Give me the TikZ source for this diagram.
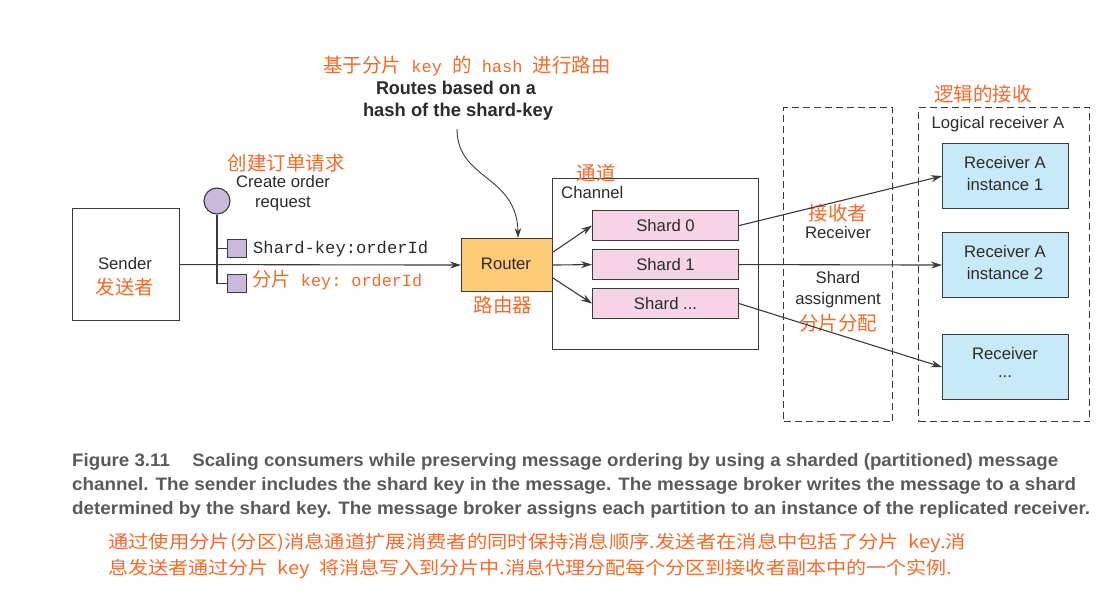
\documentclass[tikz,border=0pt]{standalone}
\usepackage{fontspec}
\setmainfont{Liberation Sans}
\setmonofont{Liberation Mono}
\newfontfamily\cjk{Noto Sans CJK SC}
\usepackage{graphicx}
\usetikzlibrary{arrows.meta}
\newsavebox\fitbox
\newcommand\fitw[2]{\sbox\fitbox{#2}\pgfmathsetmacro\fitr{#1/\the\wd\fitbox}\scalebox{\fitr}[1]{\usebox\fitbox}}
\definecolor{linec}{HTML}{3A3A3A}
\definecolor{txt}{HTML}{2B2B2B}
\definecolor{orng}{HTML}{F46A2A}
\definecolor{routerc}{HTML}{FCCB78}
\definecolor{shardc}{HTML}{F6D4E6}
\definecolor{recvc}{HTML}{C8E9F8}
\definecolor{lav}{HTML}{C9B9DA}
\definecolor{capc}{HTML}{5A5A5A}
\begin{document}
\begin{tikzpicture}[x=1pt,y=-1pt,
  box/.style={draw=linec, line width=1.1pt, inner sep=0, anchor=north west},
  dbox/.style={box, dash pattern=on 7pt off 4pt},
  arr/.style={draw=linec, line width=1.1pt, -{Stealth[length=11pt,width=7pt]}},
  ln/.style={draw=linec, line width=1.1pt},
  lbl/.style={inner sep=0, font=\fontsize{16.7}{18}\selectfont, text=txt},
  zh/.style={inner sep=0, font=\cjk\fontsize{19.5}{22}\selectfont, text=orng},
  capline/.style={inner sep=0, anchor=base west, font=\bfseries\fontsize{18}{20}\selectfont, text=capc},
  zhcap/.style={inner sep=0, anchor=base west, font=\cjk\fontsize{18}{20}\selectfont, text=orng},
]
\useasboundingbox (0,0) rectangle (1116,599);

% Sender
\node[box, minimum width=107pt, minimum height=112pt] (sender) at (72,208) {};
\node[lbl] (senderl) at (125,264) {Sender};
\node[zh] (senderz) at (125,287) {发送者};

% Message
\node[circle, draw=linec, line width=1.1pt, fill=lav, minimum size=26pt, inner sep=0] (msg) at (217,201) {};
\node[box, fill=lav, minimum width=19pt, minimum height=18pt] (sq1) at (227,239) {};
\node[box, fill=lav, minimum width=19pt, minimum height=18pt] (sq2) at (227,274) {};
\draw[ln] (msg.south) |- (sq2.west);
\draw[ln] (msg.south |- sq1.west) -- (sq1.west);
\node[zh] (createz) at (286,163) {创建订单请求};
\node[lbl] (create1) at (283,182) {Create order};
\node[lbl] (create2) at (283,204) {request};
\node[inner sep=0, anchor=base west, text=txt, font=\ttfamily\fontsize{17}{18}\selectfont] (key1) at (253,253) {\fitw{175}{Shard-key:orderId}};
\node[inner sep=0, anchor=base west, text=orng, font=\fontsize{17}{18}\selectfont] (key2) at (252,286) {\fitw{170}{{\cjk\fontsize{19.5}{22}\selectfont 分片}\texttt{\ key:\ orderId}}};

% Router
\node[box, fill=routerc, minimum width=91pt, minimum height=53pt] (router) at (461,238) {};
\node[lbl] (routerl) at (506,264) {Router};
\node[zh] (routerz) at (503,305) {路由器};
\draw[arr] (sender.east) -- (router.west);

% Top annotation
\node[inner sep=0, text=orng, font=\fontsize{17}{18}\selectfont] (hashz) at (467,66) {\fitw{287}{{\cjk\fontsize{19.5}{22}\selectfont 基于分片}\texttt{\ key\ }{\cjk\fontsize{19.5}{22}\selectfont 的}\texttt{\ hash\ }{\cjk\fontsize{19.5}{22}\selectfont 进行路由}}};
\node[inner sep=0, text=txt, font=\bfseries\fontsize{18.5}{20}\selectfont] (routes1) at (456,88) {\fitw{160}{Routes based on a}};
\node[inner sep=0, text=txt, font=\bfseries\fontsize{18.5}{20}\selectfont] (routes2) at (458,112) {\fitw{190}{hash of the shard-key}};
\coordinate (cstart) at (457,129);
\draw[draw=linec, line width=0.9pt, -{Stealth[length=10pt,width=6.5pt]}] (cstart) .. controls (457,180) and (517,175) .. ([xshift=11pt]router.north);

% Channel
\node[box, minimum width=206pt, minimum height=171pt] (channel) at (552,178) {};
\node[lbl, anchor=west] (channell) at (561,193) {Channel};
\node[zh] (channelz) at (596,173) {通道};
\node[box, fill=shardc, minimum width=146pt, minimum height=30pt] (shard0) at (592,210) {};
\node[box, fill=shardc, minimum width=146pt, minimum height=30pt] (shard1) at (592,249) {};
\node[box, fill=shardc, minimum width=146pt, minimum height=30pt] (shard2) at (592,288) {};
\node[lbl] at (shard0.center) {Shard 0};
\node[lbl] at (shard1.center) {Shard 1};
\node[lbl] at (shard2.center) {Shard ...};
\draw[arr] ([yshift=13pt]router.east) -- (shard0.west);
\draw[arr] (router.east) -- (shard1.west);
\draw[arr] ([yshift=-13pt]router.east) -- (shard2.west);

% Dashed regions
\node[dbox, minimum width=109pt, minimum height=314pt] (assign) at (783,107) {};
\node[dbox, minimum width=171pt, minimum height=314pt] (logical) at (918,107) {};
\node[zh] (logicalz) at (983,94) {逻辑的接收};
\node[lbl] (logicall) at (998,124) {Logical receiver A};

% Receivers
\node[box, fill=recvc, minimum width=126pt, minimum height=65pt] (r1) at (942,143) {};
\node[box, fill=recvc, minimum width=126pt, minimum height=65pt] (r2) at (942,232) {};
\node[box, fill=recvc, minimum width=126pt, minimum height=65pt] (r3) at (942,334) {};
\node[lbl] at (1005,163) {Receiver A};
\node[lbl] at (1005,185) {instance 1};
\node[lbl] at (1005,252) {Receiver A};
\node[lbl] at (1005,274) {instance 2};
\node[lbl] at (1005,354) {Receiver};
\node[lbl] at (1005,377) {...};

\node[zh] (recvz) at (838,213) {接收者};
\node[lbl] (recvl) at (838,233) {Receiver};
\node[lbl] (sa1) at (838,278) {Shard};
\node[lbl] (sa2) at (838,300) {assignment};
\node[zh] (saz) at (838,323) {分片分配};

\draw[arr] (shard0.east) -- (r1.west);
\draw[arr] (shard1.east) -- (r2.west);
\draw[arr] (shard2.east) -- (r3.west);

% Caption
\node[capline] (c1) at (72,466) {\fitw{986}{Figure 3.11\hspace{1.2em}Scaling consumers while preserving message ordering by using a sharded (partitioned) message}};
\node[capline] (c2) at (72,490) {\fitw{1004}{channel. The sender includes the shard key in the message. The message broker writes the message to a shard}};
\node[capline] (c3) at (72,514) {\fitw{1018}{determined by the shard key. The message broker assigns each partition to an instance of the replicated receiver.}};
\node[zhcap] (z1) at (108,548) {\fitw{858}{通过使用分片(分区)消息通道扩展消费者的同时保持消息顺序.发送者在消息中包括了分片\ \ key.消}};
\node[zhcap] (z2) at (108,574) {\fitw{844}{息发送者通过分片\ \ key\ \ 将消息写入到分片中.消息代理分配每个分区到接收者副本中的一个实例.}};
\end{tikzpicture}
\end{document}
